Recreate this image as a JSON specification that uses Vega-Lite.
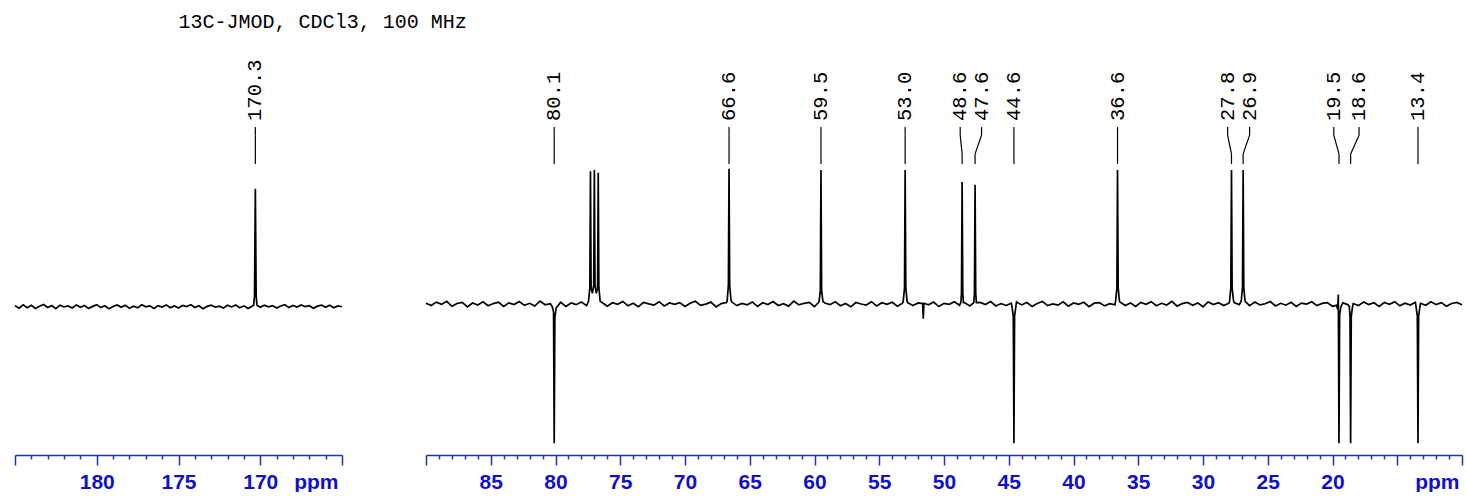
{
 "$schema": "https://vega.github.io/schema/vega-lite/v6.json",
 "padding": {"left": 11, "top": 12, "right": 0, "bottom": 0},
 "background": "white",
 "title": {"text": "13C-JMOD, CDCl3, 100 MHz", "anchor": "start", "dx": 167, "font": "Liberation Mono", "fontSize": 20, "fontWeight": "normal", "color": "black", "offset": 8},
 "config": {"view": {"stroke": null}},
 "bounds": "flush",
 "spacing": 84,
 "datasets": {
  "L": [
   {"p":185.0,"i":-1.4},{"p":184.75,"i":-3.1},{"p":184.5,"i":-0.6},{"p":184.25,"i":-2.8},{"p":184.0,"i":-1.0},
   {"p":183.75,"i":-3.4},{"p":183.5,"i":-1.7},{"p":183.25,"i":-0.4},{"p":183.0,"i":-2.6},{"p":182.75,"i":-1.2},
   {"p":182.5,"i":-3.5},{"p":182.25,"i":-0.9},{"p":182.0,"i":-2.2},{"p":181.75,"i":-1.5},{"p":181.5,"i":-3.0},
   {"p":181.25,"i":-0.7},{"p":181.0,"i":-2.4},{"p":180.75,"i":-1.1},{"p":180.5,"i":-3.3},{"p":180.25,"i":-1.8},
   {"p":180.0,"i":-0.5},{"p":179.75,"i":-2.7},{"p":179.5,"i":-1.3},{"p":179.25,"i":-3.6},{"p":179.0,"i":-1.9},
   {"p":178.75,"i":-0.8},{"p":178.5,"i":-2.5},{"p":178.25,"i":-1.0},{"p":178.0,"i":-3.2},{"p":177.75,"i":-1.6},
   {"p":177.5,"i":-2.9},{"p":177.25,"i":-0.6},{"p":177.0,"i":-2.1},{"p":176.75,"i":-1.4},{"p":176.5,"i":-3.4},
   {"p":176.25,"i":-1.2},{"p":176.0,"i":-2.3},{"p":175.75,"i":-0.7},{"p":175.5,"i":-2.8},{"p":175.25,"i":-1.5},
   {"p":175.0,"i":-3.0},{"p":174.75,"i":-1.1},{"p":174.5,"i":-2.0},{"p":174.25,"i":-0.5},{"p":174.0,"i":-2.6},
   {"p":173.75,"i":-1.3},{"p":173.5,"i":-3.5},{"p":173.25,"i":-1.8},{"p":173.0,"i":-0.9},{"p":172.75,"i":-2.4},
   {"p":172.5,"i":-1.6},{"p":172.25,"i":-3.1},{"p":172.0,"i":-1.0},{"p":171.75,"i":-2.2},{"p":171.5,"i":-0.8},
   {"p":171.25,"i":-2.9},{"p":171.0,"i":-1.4},{"p":170.75,"i":-3.3},{"p":170.5,"i":-1.7},
   {"p":170.4,"i":-1.0},{"p":170.35,"i":6},{"p":170.3,"i":86},{"p":170.25,"i":6},{"p":170.2,"i":-1.0},
   {"p":170.0,"i":-2.5},{"p":169.75,"i":-0.9},{"p":169.5,"i":-2.1},{"p":169.25,"i":-1.2},{"p":169.0,"i":-3.0},
   {"p":168.75,"i":-1.5},{"p":168.5,"i":-0.6},{"p":168.25,"i":-2.7},{"p":168.0,"i":-1.1},{"p":167.75,"i":-2.3},
   {"p":167.5,"i":-0.7},{"p":167.25,"i":-2.0},{"p":167.0,"i":-1.3},{"p":166.75,"i":-3.2},{"p":166.5,"i":-1.6},
   {"p":166.25,"i":-0.8},{"p":166.0,"i":-2.4},{"p":165.75,"i":-1.0},{"p":165.5,"i":-2.8},{"p":165.25,"i":-1.4},
   {"p":165.0,"i":-2.1}
  ],
  "R": [
   {"p":90.0,"i":0.6},{"p":89.6,"i":-1.1},{"p":89.2,"i":1.4},{"p":88.8,"i":-0.3},{"p":88.4,"i":2.0},
   {"p":88.0,"i":-1.7},{"p":87.6,"i":0.4},{"p":87.2,"i":1.2},{"p":86.8,"i":-2.1},{"p":86.4,"i":0.7},
   {"p":86.0,"i":-0.8},{"p":85.6,"i":1.6},{"p":85.2,"i":-1.3},{"p":84.8,"i":0.3},{"p":84.4,"i":1.3},
   {"p":84.0,"i":-1.9},{"p":83.6,"i":0.8},{"p":83.2,"i":-0.4},{"p":82.8,"i":1.8},{"p":82.4,"i":-1.0},
   {"p":82.0,"i":0.5},{"p":81.6,"i":-1.5},{"p":81.2,"i":2.2},{"p":80.8,"i":-0.6},{"p":80.4,"i":0.2},
   {"p":80.25,"i":-2},{"p":80.15,"i":-6},{"p":80.1,"i":-104},{"p":80.05,"i":-10},{"p":79.95,"i":-3},
   {"p":79.6,"i":1.3},{"p":79.2,"i":-1.8},{"p":78.8,"i":0.7},{"p":78.4,"i":-0.5},{"p":78.0,"i":1.5},
   {"p":77.6,"i":-1.2},
   {"p":77.45,"i":2},{"p":77.35,"i":12},{"p":77.3,"i":99},{"p":77.25,"i":12},{"p":77.15,"i":8},
   {"p":77.05,"i":14},{"p":77.0,"i":100},{"p":76.95,"i":14},{"p":76.85,"i":8},{"p":76.75,"i":12},
   {"p":76.7,"i":98},{"p":76.65,"i":12},{"p":76.55,"i":2},
   {"p":76.4,"i":1.1},{"p":76.0,"i":-1.6},{"p":75.6,"i":0.9},{"p":75.2,"i":-0.2},{"p":74.8,"i":1.9},
   {"p":74.4,"i":-1.4},{"p":74.0,"i":0.5},{"p":73.6,"i":-2.0},{"p":73.2,"i":1.2},{"p":72.8,"i":0.1},
   {"p":72.4,"i":-0.9},{"p":72.0,"i":1.7},{"p":71.6,"i":-1.5},{"p":71.2,"i":0.8},{"p":70.8,"i":-0.3},
   {"p":70.4,"i":1.0},{"p":70.0,"i":-1.8},{"p":69.6,"i":0.6},{"p":69.2,"i":2.0},{"p":68.8,"i":-1.0},
   {"p":68.4,"i":-0.1},{"p":68.0,"i":1.4},{"p":67.6,"i":-2.2},{"p":67.2,"i":0.3},{"p":66.8,"i":1.1},
   {"p":66.75,"i":2},{"p":66.65,"i":14},{"p":66.6,"i":101},{"p":66.55,"i":14},{"p":66.45,"i":3},
   {"p":66.4,"i":1.6},{"p":66.0,"i":-1.2},{"p":65.6,"i":0.4},{"p":65.2,"i":-0.6},{"p":64.8,"i":1.5},
   {"p":64.4,"i":-1.9},{"p":64.0,"i":0.9},{"p":63.6,"i":-0.4},{"p":63.2,"i":1.8},{"p":62.8,"i":-1.1},
   {"p":62.4,"i":0.2},{"p":62.0,"i":-1.6},{"p":61.6,"i":2.1},{"p":61.2,"i":-0.7},{"p":60.8,"i":0.5},
   {"p":60.4,"i":1.2},{"p":60.0,"i":-2.0},
   {"p":59.65,"i":1.5},{"p":59.55,"i":10},{"p":59.5,"i":100},{"p":59.45,"i":10},{"p":59.35,"i":2},
   {"p":59.2,"i":0.7},{"p":58.8,"i":-0.5},{"p":58.4,"i":1.6},{"p":58.0,"i":-1.3},{"p":57.6,"i":0.4},
   {"p":57.2,"i":-2.1},{"p":56.8,"i":1.1},{"p":56.4,"i":0.0},{"p":56.0,"i":-0.8},{"p":55.6,"i":1.7},
   {"p":55.2,"i":-1.4},{"p":54.8,"i":0.9},{"p":54.4,"i":-0.2},{"p":54.0,"i":1.3},{"p":53.6,"i":-1.7},
   {"p":53.2,"i":0.6},
   {"p":53.15,"i":2},{"p":53.05,"i":12},{"p":53.0,"i":100},{"p":52.95,"i":12},{"p":52.85,"i":2},
   {"p":52.8,"i":1.0},{"p":52.4,"i":-1.2},{"p":52.0,"i":0.8},
   {"p":51.65,"i":0.3},{"p":51.6,"i":-11},{"p":51.55,"i":0.5},
   {"p":51.2,"i":-0.6},{"p":50.8,"i":1.4},{"p":50.4,"i":-1.9},{"p":50.0,"i":0.5},{"p":49.6,"i":-0.3},
   {"p":49.2,"i":1.6},{"p":48.8,"i":-1.0},
   {"p":48.7,"i":1},{"p":48.65,"i":8},{"p":48.6,"i":91},{"p":48.55,"i":8},{"p":48.5,"i":1},
   {"p":48.4,"i":0.9},{"p":48.0,"i":-1.4},
   {"p":47.7,"i":1},{"p":47.65,"i":8},{"p":47.6,"i":89},{"p":47.55,"i":8},{"p":47.5,"i":1},
   {"p":47.2,"i":1.2},{"p":46.8,"i":-0.4},{"p":46.4,"i":1.8},{"p":46.0,"i":-1.5},{"p":45.6,"i":0.3},
   {"p":45.2,"i":-1.1},{"p":44.8,"i":0.6},
   {"p":44.75,"i":-2},{"p":44.65,"i":-9},{"p":44.6,"i":-104},{"p":44.55,"i":-9},{"p":44.45,"i":-2},
   {"p":44.4,"i":1.5},{"p":44.0,"i":-0.7},{"p":43.6,"i":1.1},{"p":43.2,"i":-1.8},{"p":42.8,"i":0.4},
   {"p":42.4,"i":1.9},{"p":42.0,"i":-1.2},{"p":41.6,"i":0.1},{"p":41.2,"i":-0.9},{"p":40.8,"i":1.6},
   {"p":40.4,"i":-1.6},{"p":40.0,"i":0.8},{"p":39.6,"i":-0.3},{"p":39.2,"i":1.3},{"p":38.8,"i":-2.0},
   {"p":38.4,"i":0.6},{"p":38.0,"i":1.0},{"p":37.6,"i":-1.4},{"p":37.2,"i":0.2},{"p":36.8,"i":-0.6},
   {"p":36.75,"i":2},{"p":36.65,"i":12},{"p":36.6,"i":100},{"p":36.55,"i":12},{"p":36.45,"i":2},
   {"p":36.4,"i":1.4},{"p":36.0,"i":-1.1},{"p":35.6,"i":0.7},{"p":35.2,"i":-1.9},{"p":34.8,"i":1.2},
   {"p":34.4,"i":-0.2},{"p":34.0,"i":1.7},{"p":33.6,"i":-1.3},{"p":33.2,"i":0.5},{"p":32.8,"i":-0.8},
   {"p":32.4,"i":2.0},{"p":32.0,"i":-1.6},{"p":31.6,"i":0.3},{"p":31.2,"i":1.1},{"p":30.8,"i":-1.0},
   {"p":30.4,"i":0.8},{"p":30.0,"i":-2.1},{"p":29.6,"i":1.5},{"p":29.2,"i":-0.4},{"p":28.8,"i":0.9},
   {"p":28.4,"i":-1.2},{"p":28.0,"i":0.6},
   {"p":27.95,"i":2},{"p":27.85,"i":12},{"p":27.8,"i":100},{"p":27.75,"i":12},{"p":27.65,"i":3},
   {"p":27.6,"i":1.0},{"p":27.2,"i":-0.5},
   {"p":27.05,"i":2},{"p":26.95,"i":12},{"p":26.9,"i":100},{"p":26.85,"i":12},{"p":26.75,"i":2},
   {"p":26.4,"i":-1.3},{"p":26.0,"i":1.4},{"p":25.6,"i":-0.7},{"p":25.2,"i":0.2},{"p":24.8,"i":1.8},
   {"p":24.4,"i":-1.5},{"p":24.0,"i":0.5},{"p":23.6,"i":-0.9},{"p":23.2,"i":1.2},{"p":22.8,"i":-1.8},
   {"p":22.4,"i":0.7},{"p":22.0,"i":-0.1},{"p":21.6,"i":1.6},{"p":21.2,"i":-1.2},{"p":20.8,"i":0.4},
   {"p":20.4,"i":1.0},{"p":20.0,"i":-1.7},
   {"p":19.7,"i":-1},{"p":19.6,"i":-4},{"p":19.55,"i":7},{"p":19.5,"i":-104},{"p":19.45,"i":-8},{"p":19.35,"i":-2},
   {"p":19.2,"i":0.8},{"p":18.8,"i":-0.6},
   {"p":18.7,"i":-2},{"p":18.65,"i":-9},{"p":18.6,"i":-104},{"p":18.55,"i":-9},{"p":18.45,"i":-2},
   {"p":18.4,"i":0.3},{"p":18.0,"i":-1.2},{"p":17.6,"i":1.5},{"p":17.2,"i":-0.4},{"p":16.8,"i":0.9},
   {"p":16.4,"i":-1.9},{"p":16.0,"i":1.1},{"p":15.6,"i":-0.2},{"p":15.2,"i":1.7},{"p":14.8,"i":-1.4},
   {"p":14.4,"i":0.6},{"p":14.0,"i":-0.8},{"p":13.6,"i":1.3},
   {"p":13.55,"i":-2},{"p":13.45,"i":-9},{"p":13.4,"i":-104},{"p":13.35,"i":-9},{"p":13.25,"i":-2},
   {"p":13.2,"i":0.5},{"p":12.8,"i":-1.0},{"p":12.4,"i":1.6},{"p":12.0,"i":-0.5},{"p":11.6,"i":1.0},
   {"p":11.2,"i":-1.7},{"p":10.8,"i":0.4},{"p":10.4,"i":1.2},{"p":10.0,"i":-0.6}
  ],
  "labL": [
   {"t":"170.3","lp":170.3,"pp":170.3}
  ],
  "labR": [
   {"t":"80.1","lp":80.1,"pp":80.1},
   {"t":"66.6","lp":66.6,"pp":66.6},
   {"t":"59.5","lp":59.5,"pp":59.5},
   {"t":"53.0","lp":53.0,"pp":53.0},
   {"t":"48.6","lp":48.75,"pp":48.6},
   {"t":"47.6","lp":47.1,"pp":47.6},
   {"t":"44.6","lp":44.6,"pp":44.6},
   {"t":"36.6","lp":36.6,"pp":36.6},
   {"t":"27.8","lp":28.1,"pp":27.8},
   {"t":"26.9","lp":26.4,"pp":26.9},
   {"t":"19.5","lp":19.9,"pp":19.5},
   {"t":"18.6","lp":17.95,"pp":18.6},
   {"t":"13.4","lp":13.4,"pp":13.4}
  ]
 },
 "hconcat": [
  {
   "width": 327,
   "height": 415,
   "layer": [
    {
     "data": {"name": "L"},
     "mark": {"type": "line", "color": "black", "strokeWidth": 1.7},
     "encoding": {
      "x": {"field": "p", "type": "quantitative",
        "scale": {"domain": [165, 185], "reverse": true, "nice": false, "zero": false},
        "axis": {
          "values": [185,184,183,182,181,180,179,178,177,176,175,174,173,172,171,170,169,168,167,166,165],
          "tickCount": 200,
          "format": "d",
          "labelExpr": "datum.value == 165 ? 'ppm' : ((datum.value % 5 == 0 && datum.value != 185) ? datum.label : '')",
          "tickSize": {"condition": {"test": "datum.value % 5 == 0", "value": 10}, "value": 4},
          "labelAlign": {"condition": {"test": "datum.value == 165", "value": "right"}, "value": "center"},
          "labelOffset": {"condition": {"test": "datum.value == 165", "value": -4}, "value": 0},
          "labelFlush": false, "labelOverlap": false, "grid": false, "title": null,
          "domainColor": "#2233aa", "tickColor": "#2233aa", "labelColor": "#1010cc",
          "labelFont": "Liberation Sans", "labelFontWeight": "bold", "labelFontSize": 21,
          "labelPadding": 6, "domainWidth": 1.5, "tickWidth": 1.5
        }},
      "y": {"field": "i", "type": "quantitative", "scale": {"domain": [-112.7, 197], "nice": false, "zero": false}, "axis": null}
     }
    },
    {
     "data": {"name": "labL"},
     "mark": {"type": "rule", "color": "black", "strokeWidth": 1.2},
     "encoding": {"x": {"field": "lp", "type": "quantitative"}, "y": {"datum": 132}, "y2": {"datum": 126}}
    },
    {
     "data": {"name": "labL"},
     "mark": {"type": "rule", "color": "black", "strokeWidth": 1.2},
     "encoding": {"x": {"field": "lp", "type": "quantitative"}, "x2": {"field": "pp"}, "y": {"datum": 126}, "y2": {"datum": 112}}
    },
    {
     "data": {"name": "labL"},
     "mark": {"type": "rule", "color": "black", "strokeWidth": 1.2},
     "encoding": {"x": {"field": "pp", "type": "quantitative"}, "y": {"datum": 112}, "y2": {"datum": 104.5}}
    },
    {
     "data": {"name": "labL"},
     "mark": {"type": "text", "angle": 270, "align": "left", "baseline": "middle", "font": "Liberation Mono", "fontSize": 20.5, "color": "black"},
     "encoding": {"x": {"field": "lp", "type": "quantitative"}, "y": {"datum": 136.6}, "text": {"field": "t"}}
    }
   ]
  },
  {
   "width": 1036,
   "height": 415,
   "layer": [
    {
     "data": {"name": "R"},
     "mark": {"type": "line", "color": "black", "strokeWidth": 1.7},
     "encoding": {
      "x": {"field": "p", "type": "quantitative",
        "scale": {"domain": [10, 90], "reverse": true, "nice": false, "zero": false},
        "axis": {
          "values": [90,89,88,87,86,85,84,83,82,81,80,79,78,77,76,75,74,73,72,71,70,69,68,67,66,65,64,63,62,61,60,59,58,57,56,55,54,53,52,51,50,49,48,47,46,45,44,43,42,41,40,39,38,37,36,35,34,33,32,31,30,29,28,27,26,25,24,23,22,21,20,19,18,17,16,15,14,13,12,11,10],
          "tickCount": 200,
          "format": "d",
          "labelExpr": "datum.value == 10 ? 'ppm' : ((datum.value % 5 == 0 && datum.value != 90 && datum.value != 15) ? datum.label : '')",
          "tickSize": {"condition": {"test": "datum.value % 5 == 0", "value": 10}, "value": 4},
          "labelAlign": {"condition": {"test": "datum.value == 10", "value": "right"}, "value": "center"},
          "labelOffset": {"condition": {"test": "datum.value == 10", "value": -3}, "value": 0},
          "labelFlush": false, "labelOverlap": false, "grid": false, "title": null,
          "domainColor": "#2233aa", "tickColor": "#2233aa", "labelColor": "#1010cc",
          "labelFont": "Liberation Sans", "labelFontWeight": "bold", "labelFontSize": 21,
          "labelPadding": 6, "domainWidth": 1.5, "tickWidth": 1.5
        }},
      "y": {"field": "i", "type": "quantitative", "scale": {"domain": [-112.7, 197], "nice": false, "zero": false}, "axis": null}
     }
    },
    {
     "data": {"name": "labR"},
     "mark": {"type": "rule", "color": "black", "strokeWidth": 1.2},
     "encoding": {"x": {"field": "lp", "type": "quantitative"}, "y": {"datum": 132}, "y2": {"datum": 126}}
    },
    {
     "data": {"name": "labR"},
     "mark": {"type": "rule", "color": "black", "strokeWidth": 1.2},
     "encoding": {"x": {"field": "lp", "type": "quantitative"}, "x2": {"field": "pp"}, "y": {"datum": 126}, "y2": {"datum": 112}}
    },
    {
     "data": {"name": "labR"},
     "mark": {"type": "rule", "color": "black", "strokeWidth": 1.2},
     "encoding": {"x": {"field": "pp", "type": "quantitative"}, "y": {"datum": 112}, "y2": {"datum": 104.5}}
    },
    {
     "data": {"name": "labR"},
     "mark": {"type": "text", "angle": 270, "align": "left", "baseline": "middle", "font": "Liberation Mono", "fontSize": 20.5, "color": "black"},
     "encoding": {"x": {"field": "lp", "type": "quantitative"}, "y": {"datum": 136.6}, "text": {"field": "t"}}
    }
   ]
  }
 ]
}
